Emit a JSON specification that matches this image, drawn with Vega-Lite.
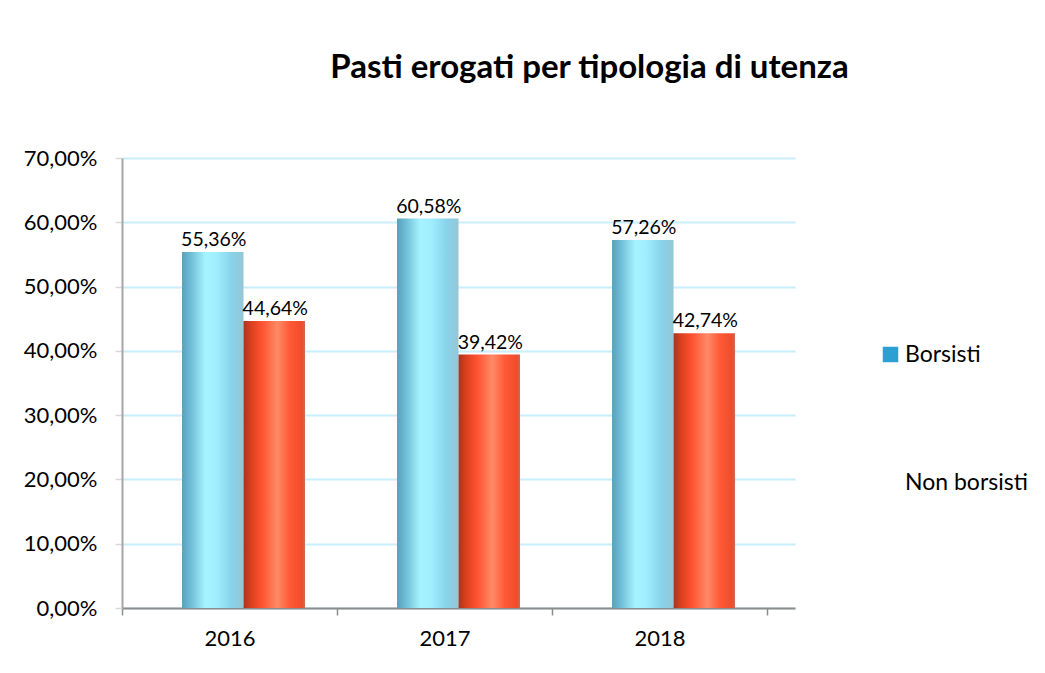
{
  "$schema": "https://vega.github.io/schema/vega-lite/v6.json",
  "autosize": "none",
  "width": 673,
  "height": 450,
  "padding": {"left": 122, "top": 158, "right": 250, "bottom": 65},
  "background": "white",
  "config": {
    "locale": {"number": {"decimal": ",", "thousands": ".", "grouping": [3], "currency": ["€", ""]}},
    "view": {"stroke": null},
    "font": "Lato"
  },
  "title": {
    "text": "Pasti erogati per tipologia di utenza",
    "font": "Lato",
    "fontWeight": "bold",
    "fontSize": 33,
    "color": "#000000",
    "anchor": "middle",
    "dx": 131,
    "offset": 62
  },
  "data": {
    "values": [
      {"anno": "2016", "tipo": "Borsisti", "valore": 0.5536},
      {"anno": "2016", "tipo": "Non borsisti", "valore": 0.4464},
      {"anno": "2017", "tipo": "Borsisti", "valore": 0.6058},
      {"anno": "2017", "tipo": "Non borsisti", "valore": 0.3942},
      {"anno": "2018", "tipo": "Borsisti", "valore": 0.5726},
      {"anno": "2018", "tipo": "Non borsisti", "valore": 0.4274}
    ]
  },
  "encoding": {
    "x": {
      "field": "anno",
      "type": "nominal",
      "scale": {"paddingInner": 0, "paddingOuter": 0.065, "align": 0},
      "axis": {
        "title": null,
        "labelAngle": 0,
        "labelFont": "Lato",
        "labelFontSize": 22,
        "labelColor": "#000000",
        "labelPadding": 13,
        "tickBand": "extent",
        "tickSize": 7,
        "tickColor": "#8c8c8c",
        "tickWidth": 1.5,
        "domainColor": "#8c8c8c",
        "domainWidth": 2,
        "grid": false
      }
    },
    "xOffset": {
      "field": "tipo",
      "type": "nominal",
      "scale": {"range": [60, 183], "paddingInner": 0, "paddingOuter": 0}
    },
    "y": {
      "field": "valore",
      "type": "quantitative",
      "scale": {"domain": [0, 0.7], "nice": false},
      "axis": {
        "title": null,
        "format": ".2%",
        "values": [0, 0.1, 0.2, 0.3, 0.4, 0.5, 0.6, 0.7],
        "labelFont": "Lato",
        "labelFontSize": 22,
        "labelColor": "#000000",
        "labelPadding": 18,
        "tickSize": 7,
        "tickColor": "#d9d9d9",
        "tickWidth": 1.5,
        "domainColor": "#a6a6a6",
        "domainWidth": 2,
        "gridColor": "#c9eefc",
        "gridWidth": 2
      }
    }
  },
  "layer": [
    {
      "transform": [{"filter": "datum.tipo === 'Borsisti'"}],
      "mark": {
        "type": "bar",
        "color": {
          "gradient": "linear", "x1": 0, "y1": 0, "x2": 1, "y2": 0,
          "stops": [
            {"offset": 0, "color": "#5c9fb9"},
            {"offset": 0.12, "color": "#6ab8d2"},
            {"offset": 0.38, "color": "#a6f3ff"},
            {"offset": 0.55, "color": "#a0efff"},
            {"offset": 0.8, "color": "#88d3ea"},
            {"offset": 1, "color": "#95c6d6"}
          ]
        }
      }
    },
    {
      "transform": [{"filter": "datum.tipo === 'Non borsisti'"}],
      "mark": {
        "type": "bar",
        "color": {
          "gradient": "linear", "x1": 0, "y1": 0, "x2": 1, "y2": 0,
          "stops": [
            {"offset": 0, "color": "#a5351f"},
            {"offset": 0.12, "color": "#d8401f"},
            {"offset": 0.3, "color": "#ff5230"},
            {"offset": 0.55, "color": "#ff8a68"},
            {"offset": 0.75, "color": "#ff5a36"},
            {"offset": 0.95, "color": "#f04c2c"},
            {"offset": 1, "color": "#c86a5a"}
          ]
        }
      }
    },
    {
      "mark": {"type": "text", "baseline": "alphabetic", "dy": -6, "dx": 1, "font": "Lato", "fontSize": 19.5, "color": "#000000"},
      "encoding": {
        "text": {"field": "valore", "type": "quantitative", "format": ".2%"}
      }
    },
    {
      "mark": {"type": "square", "opacity": 0},
      "encoding": {
        "color": {
          "field": "tipo",
          "type": "nominal",
          "scale": {"domain": ["Borsisti", "Non borsisti"], "range": ["#2e9fd2", "transparent"]},
          "legend": {
            "title": null,
            "orient": "none",
            "legendX": 757,
            "legendY": 185,
            "symbolType": "square",
            "symbolSize": 240,
            "symbolOpacity": 1,
            "symbolStrokeWidth": 0,
            "labelFont": "Lato",
            "labelFontSize": 23,
            "labelColor": "#000000",
            "labelOffset": 3,
            "rowPadding": 104
          }
        }
      }
    }
  ]
}
